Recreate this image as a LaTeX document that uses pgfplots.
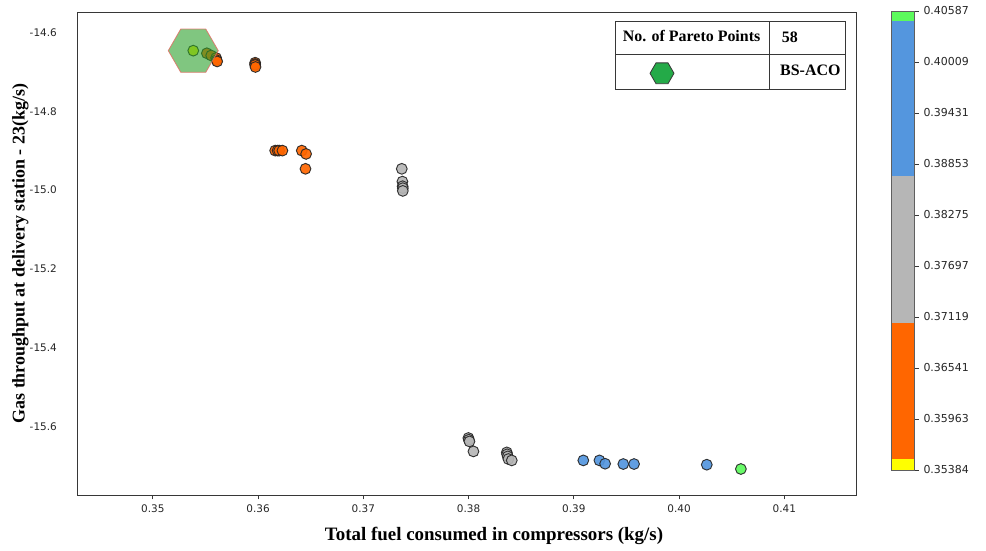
\documentclass[border=0pt]{standalone}
\usepackage{fontspec}
\setmainfont{Liberation Serif}
\newfontfamily\tickfont{DejaVu Sans}
\usepackage{pgfplots}
\pgfplotsset{compat=1.18}
\usetikzlibrary{shapes.geometric}

\definecolor{ptorange}{RGB}{255,102,0}
\definecolor{ptgray}{RGB}{182,182,182}
\definecolor{ptblue}{RGB}{84,150,222}
\definecolor{ptgreen}{RGB}{92,250,92}
\definecolor{ptyellow}{RGB}{255,255,0}
\definecolor{hexgreen}{RGB}{44,160,44}
\definecolor{hexedge}{RGB}{225,110,100}
\definecolor{legendhex}{RGB}{36,170,72}
\definecolor{framegray}{RGB}{55,55,55}

% flat-topped hexagon mark, circumradius = mark size
\pgfdeclareplotmark{hexagon}{%
  \pgfpathmoveto{\pgfpointpolar{0}{\pgfplotmarksize}}%
  \pgfpathlineto{\pgfpointpolar{60}{\pgfplotmarksize}}%
  \pgfpathlineto{\pgfpointpolar{120}{\pgfplotmarksize}}%
  \pgfpathlineto{\pgfpointpolar{180}{\pgfplotmarksize}}%
  \pgfpathlineto{\pgfpointpolar{240}{\pgfplotmarksize}}%
  \pgfpathlineto{\pgfpointpolar{300}{\pgfplotmarksize}}%
  \pgfpathclose
  \pgfusepathqfillstroke
}

\pgfplotsset{
  pt/.style={only marks, mark=*, mark size=5.4bp,
    mark options={fill=#1, draw=black!85, line width=0.95bp, opacity=0.92}},
  band/.style={fill=#1, draw=none, mark=none},
}

\begin{document}
\begin{tikzpicture}[x=1bp,y=1bp]
\useasboundingbox (0,0) rectangle (986,551);

% ---------------- main scatter ----------------
\begin{axis}[
  at={(77.5bp,55.7bp)}, anchor=south west, scale only axis,
  width=778.5bp, height=483.3bp,
  xmin=0.34284, xmax=0.41681, ymin=-15.7739, ymax=-14.548,
  xtick={0.35,0.36,0.37,0.38,0.39,0.40,0.41},
  xticklabels={0.35,0.36,0.37,0.38,0.39,0.40,0.41},
  ytick={-15.6,-15.4,-15.2,-15.0,-14.8,-14.6},
  yticklabels={-15.6,-15.4,-15.2,-15.0,-14.8,-14.6},
  xtick pos=left, ytick pos=left,
  tick align=outside, major tick length=4bp,
  axis line style={framegray, line width=0.9bp},
  x tick style={framegray, line width=0.8bp},
  y tick style={draw=none},
  xticklabel style={font=\tickfont\fontsize{10.5}{12}\selectfont, text=black!85,
    inner sep=0pt, anchor=north, yshift=-5bp},
  yticklabel style={font=\tickfont\fontsize{10.5}{12}\selectfont, text=black!85,
    inner sep=0pt, anchor=east, xshift=-16.5bp},
  xlabel={Total fuel consumed in compressors (kg/s)},
  ylabel={Gas throughput at delivery station - 23(kg/s)},
  xlabel style={font=\bfseries\fontsize{19}{22}\selectfont,
    at={(axis description cs:0.535,-0.084)}, anchor=center},
  ylabel style={font=\bfseries\fontsize{18}{21}\selectfont,
    at={(axis description cs:-0.0735,0.5)}, anchor=center},
]
% Pareto points, coloured by total fuel
\addplot[pt=ptyellow] coordinates {(0.35384,-14.6461)};
\addplot[pt=ptorange] coordinates {
  (0.35513,-14.6527) (0.35554,-14.6583) (0.35601,-14.6646) (0.35605,-14.6700)
  (0.35611,-14.6735)
  (0.35972,-14.6766) (0.35972,-14.6800) (0.35972,-14.6824) (0.35975,-14.6875)
  (0.36162,-14.8996) (0.36185,-14.8996) (0.36200,-14.8996) (0.36231,-14.8996)
  (0.36415,-14.8996) (0.36456,-14.9080) (0.36450,-14.9458)
};
\addplot[pt=ptgray] coordinates {
  (0.37365,-14.9458) (0.37371,-14.9782) (0.37373,-14.9900) (0.37375,-14.9949)
  (0.37375,-15.0018)
  (0.37998,-15.6286) (0.38002,-15.6330) (0.38008,-15.6373) (0.38046,-15.6626)
  (0.38363,-15.6651) (0.38366,-15.6700) (0.38372,-15.6753) (0.38378,-15.6819)
  (0.38410,-15.6854)
};
\addplot[pt=ptblue] coordinates {
  (0.39090,-15.6854) (0.39243,-15.6854) (0.39297,-15.6938) (0.39470,-15.6946)
  (0.39572,-15.6946) (0.40263,-15.6963)
};
\addplot[pt=ptgreen] coordinates {(0.40587,-15.7072)};
% BS-ACO solution
\addplot[only marks, mark=hexagon, mark size=25bp,
  mark options={fill=hexgreen, fill opacity=0.6, draw=hexedge, draw opacity=0.85, line width=0.8bp}]
  coordinates {(0.35384,-14.6461)};
\end{axis}

% ---------------- colour bar ----------------
\begin{axis}[
  at={(891.7bp,81bp)}, anchor=south west, scale only axis,
  width=22.6bp, height=459bp,
  xmin=0, xmax=1, ymin=0.35384, ymax=0.40587,
  xtick=\empty, axis on top,
  ytick={0.35384,0.35963,0.36541,0.37119,0.37697,0.38275,0.38853,0.39431,0.40009,0.40587},
  yticklabels={0.35384,0.35963,0.36541,0.37119,0.37697,0.38275,0.38853,0.39431,0.40009,0.40587},
  ytick pos=right, yticklabel pos=right,
  tick align=outside, major tick length=4.5bp,
  axis line style={framegray!80, line width=0.9bp},
  y tick style={framegray, line width=0.8bp},
  yticklabel style={font=\tickfont\fontsize{11}{13}\selectfont, text=black!85,
    inner sep=0pt, anchor=west, xshift=4.5bp},
]
\addplot[band=ptyellow] coordinates {(0,0.35384) (1,0.35384) (1,0.35509) (0,0.35509)};
\addplot[band=ptorange] coordinates {(0,0.35509) (1,0.35509) (1,0.37054) (0,0.37054)};
\addplot[band=ptgray]   coordinates {(0,0.37054) (1,0.37054) (1,0.38720) (0,0.38720)};
\addplot[band=ptblue]   coordinates {(0,0.38720) (1,0.38720) (1,0.40474) (0,0.40474)};
\addplot[band=ptgreen]  coordinates {(0,0.40474) (1,0.40474) (1,0.40587) (0,0.40587)};
\end{axis}

% ---------------- summary table ----------------
\begin{scope}[draw=framegray, line width=1.1bp]
  \draw (615.7,461.7) rectangle (845.7,529.3);
  \draw (615.7,496.7) -- (845.7,496.7);
  \draw (769.3,461.7) -- (769.3,529.3);
\end{scope}
\node[anchor=base west, inner sep=0pt, font=\bfseries\fontsize{16}{18}\selectfont]
  at (622.7,509.3) {No. of Pareto Points};
\node[anchor=base west, inner sep=0pt, font=\bfseries\fontsize{16}{18}\selectfont]
  at (781.7,508) {58};
\node[anchor=base west, inner sep=0pt, font=\bfseries\fontsize{16}{18}\selectfont]
  at (780,475.3) {BS-ACO};
\node[regular polygon, regular polygon sides=6, minimum size=24bp, inner sep=0pt,
  fill=legendhex, draw=framegray, line width=0.8bp] at (662,477.7) {};
\end{tikzpicture}
\end{document}
